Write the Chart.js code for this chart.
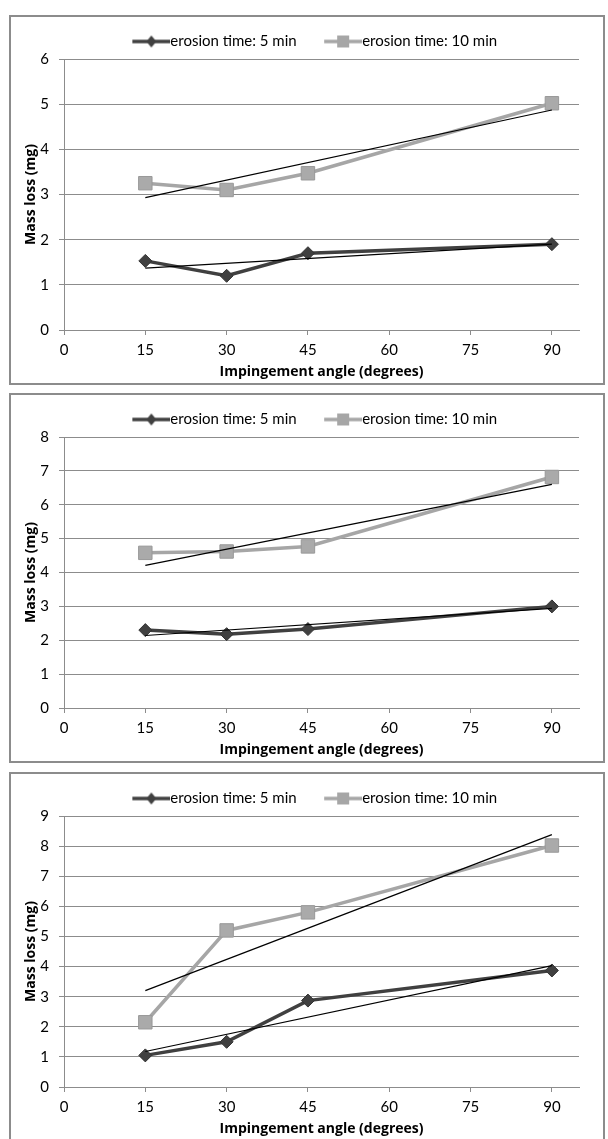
<!DOCTYPE html>
<html>
<head>
<meta charset="utf-8">
<title>Mass loss vs impingement angle</title>
<script src="https://cdn.jsdelivr.net/npm/chart.js@4.4.1/dist/chart.umd.min.js"></script>
<style>
  body { margin: 0; background: #fff; }
  .panel { position: absolute; left: 9px; width: 596px; height: 370px; border: 2px solid #8c8c8c; box-sizing: border-box; background: #fff; }
  .panel canvas { display: block; }
</style>
</head>
<body>
<div class="panel" style="top:15px"><canvas id="chart1" width="592" height="366"></canvas></div>
<div class="panel" style="top:393px"><canvas id="chart2" width="592" height="366"></canvas></div>
<div class="panel" style="top:772px"><canvas id="chart3" width="592" height="366"></canvas></div>

<script>
const seriesNames = ['erosion time: 5 min', 'erosion time: 10 min'];
const angles = [15, 30, 45, 90];
const trendAngles = [15, 90];
const xTickValues = [0, 15, 30, 45, 60, 75, 90];
const yMaxes = [6, 8, 9];

// top chart
const loss5A = [1.53, 1.2, 1.7, 1.9];
const loss10A = [3.25, 3.1, 3.47, 5.02];
const trend5A = [1.37, 1.9];
const trend10A = [2.93, 4.87];

// middle chart
const loss5B = [2.3, 2.18, 2.33, 3.0];
const loss10B = [4.58, 4.62, 4.77, 6.82];
const trend5B = [2.14, 2.94];
const trend10B = [4.21, 6.6];

// bottom chart
const loss5C = [1.05, 1.5, 2.87, 3.87];
const loss10C = [2.15, 5.2, 5.8, 8.02];
const trend5C = [1.18, 4.03];
const trend10C = [3.2, 8.38];

const dark = '#404040';
const light = '#a6a6a6';
const gridColor = '#8c8c8c';
const titleFont = { family: 'Open Sans', size: 14, weight: 'bold' };

Chart.defaults.font.family = 'Lato';
Chart.defaults.font.size = 15;
Chart.defaults.color = '#000';

const pts = (xs, ys) => xs.map((x, i) => ({ x: x, y: ys[i] }));

// little line+marker picture for the legend, like Excel draws it
function legendIcon(color, square) {
  const c = document.createElement('canvas');
  c.width = 63; c.height = 14;
  const g = c.getContext('2d');
  g.strokeStyle = color;
  g.fillStyle = color;
  g.lineWidth = 3.5;
  g.beginPath(); g.moveTo(25, 7); g.lineTo(63, 7); g.stroke();
  g.beginPath();
  if (square) {
    g.rect(38, 1, 12, 12);
  } else {
    g.moveTo(44, 1); g.lineTo(49, 7); g.lineTo(44, 13); g.lineTo(39, 7); g.closePath();
  }
  g.fill();
  return c;
}
const icons = [legendIcon(dark, false), legendIcon(light, true)];

// move the legend a bit right, Excel centres it differently
const legendShift = {
  id: 'legendShift',
  afterLayout(chart) {
    chart.legend.left += 11;
    chart.legend.right += 11;
  }
};

function makeChart(id, five, ten, t5, t10, yMax) {
  return new Chart(document.getElementById(id), {
    type: 'scatter',
    data: {
      datasets: [
        { label: 'trend5', data: pts(trendAngles, t5), showLine: true, borderColor: '#000', borderWidth: 1.2, pointRadius: 0, order: 0 },
        { label: 'trend10', data: pts(trendAngles, t10), showLine: true, borderColor: '#000', borderWidth: 1.2, pointRadius: 0, order: 0 },
        { label: seriesNames[0], data: pts(angles, five), showLine: true, borderColor: dark, backgroundColor: dark,
          borderWidth: 3.5, pointStyle: 'rectRot', pointRadius: 6.5, pointBorderWidth: 1, pointBorderColor: '#333', order: 1 },
        { label: seriesNames[1], data: pts(angles, ten), showLine: true, borderColor: light, backgroundColor: '#aaaaaa',
          borderWidth: 3.5, pointStyle: 'rect', pointRadius: 9.5, pointBorderWidth: 1, pointBorderColor: '#999', order: 2 }
      ]
    },
    options: {
      responsive: false,
      animation: false,
      layout: { padding: { top: 7, left: 0, right: 24, bottom: 0 } },
      plugins: {
        tooltip: { enabled: false },
        legend: {
          position: 'top',
          labels: {
            usePointStyle: true,
            pointStyleWidth: 48,
            padding: 10,
            font: { size: 15 },
            generateLabels: () => seriesNames.map((n, i) => ({
              text: n, pointStyle: icons[i], fillStyle: 'transparent', strokeStyle: 'transparent',
              lineWidth: 0, hidden: false, datasetIndex: i + 2
            }))
          }
        }
      },
      scales: {
        x: {
          type: 'linear',
          min: 0,
          max: 95,
          afterBuildTicks: s => { s.ticks = xTickValues.map(v => ({ value: v })); },
          afterFit: s => { s.height = 53; },
          ticks: { padding: 6, font: { size: 15 } },
          grid: { drawOnChartArea: false, drawTicks: true, tickLength: 5, color: gridColor },
          border: { color: gridColor },
          title: { display: true, text: 'Impingement angle (degrees)', font: titleFont, padding: { top: 0, bottom: 3 } }
        },
        y: {
          min: 0,
          max: yMax,
          ticks: { stepSize: 1, padding: 10, font: { size: 15 } },
          afterFit: s => { s.width = 53; },
          grid: { color: gridColor, tickLength: 5 },
          border: { color: gridColor },
          title: { display: true, text: 'Mass loss (mg)', font: titleFont, padding: { top: 12, bottom: 0 } }
        }
      }
    },
    plugins: [legendShift]
  });
}

makeChart('chart1', loss5A, loss10A, trend5A, trend10A, yMaxes[0]);
makeChart('chart2', loss5B, loss10B, trend5B, trend10B, yMaxes[1]);
makeChart('chart3', loss5C, loss10C, trend5C, trend10C, yMaxes[2]);
</script>
</body>
</html>
